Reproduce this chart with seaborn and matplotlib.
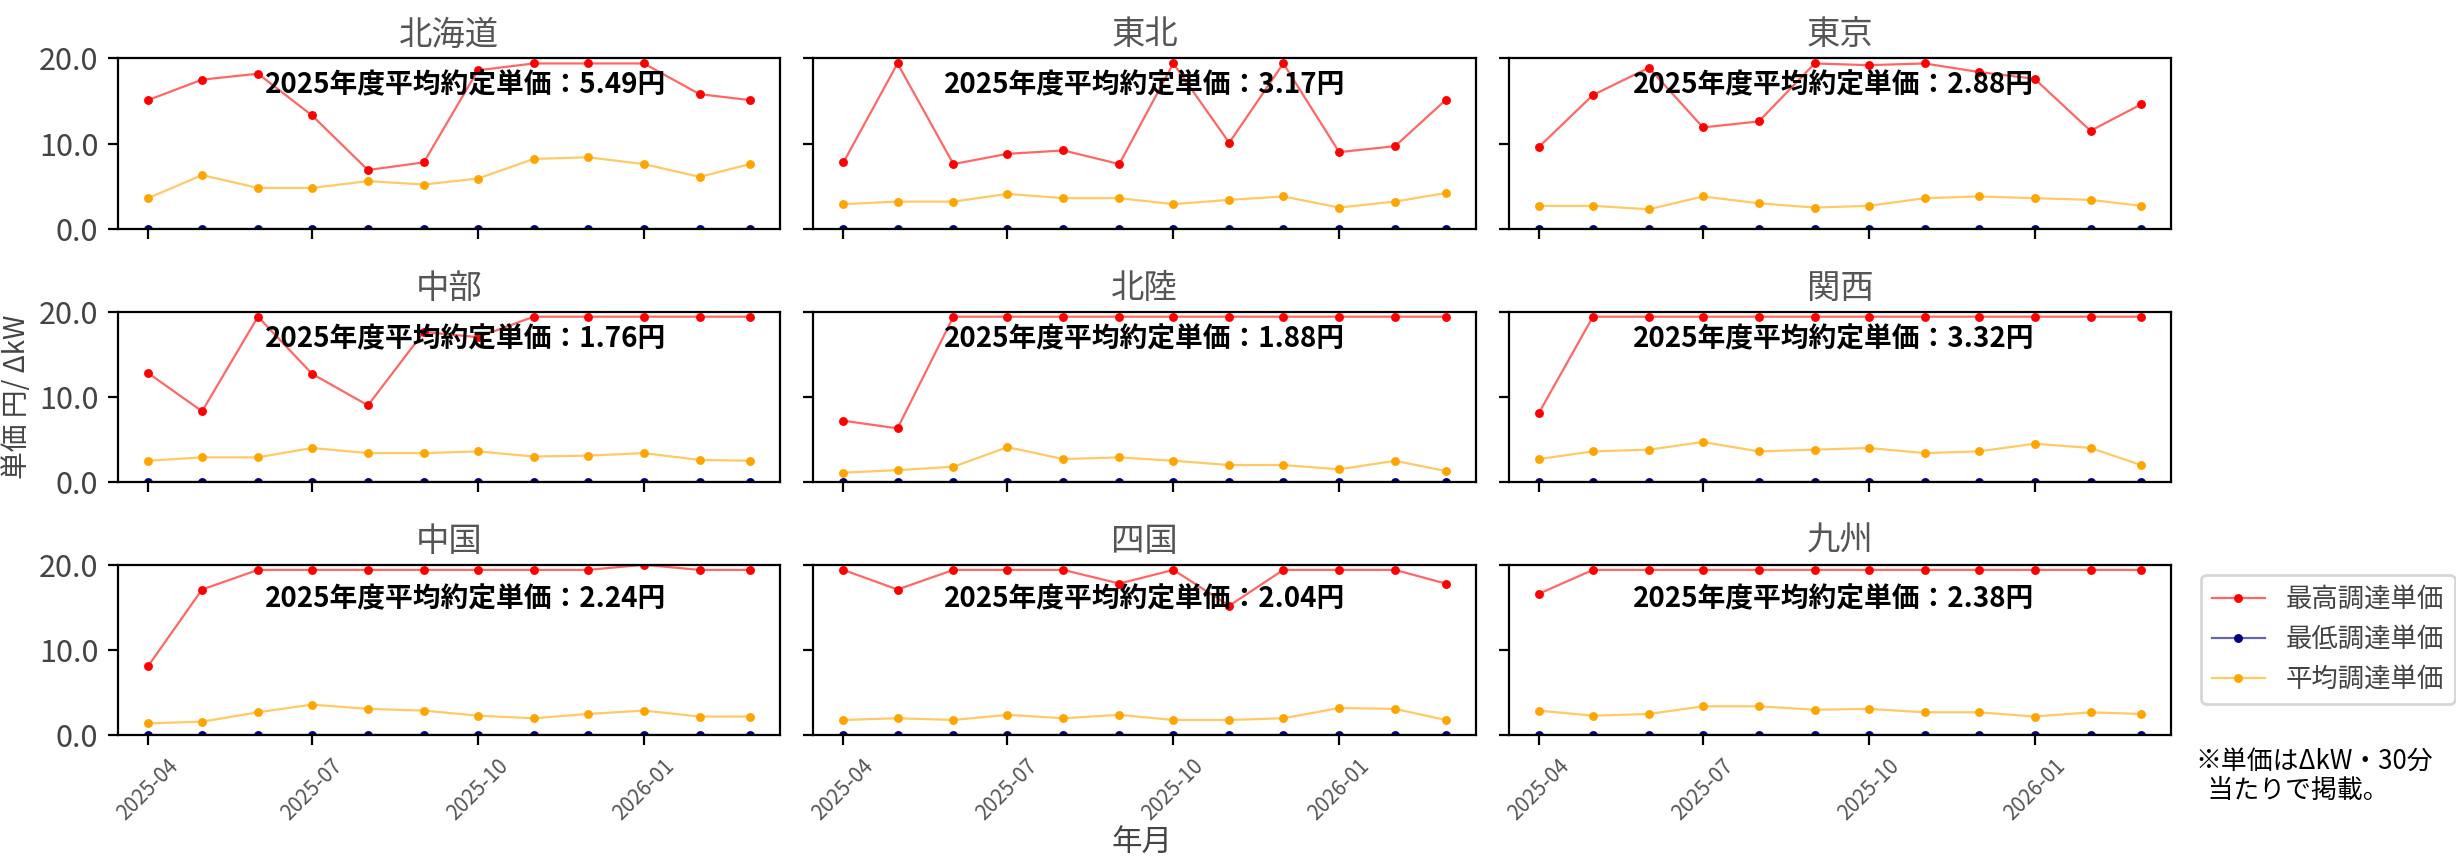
import pandas as pd
import matplotlib
matplotlib.use("Agg")
import matplotlib.pyplot as plt
import matplotlib.dates as mdates
from matplotlib.ticker import FormatStrFormatter
from matplotlib.colors import to_rgba
import seaborn as sns

regions = ["北海道", "東北", "東京", "中部", "北陸", "関西", "中国", "四国", "九州"]
months = pd.date_range("2025-04-01", periods=12, freq="MS")
series_names = ["最高調達単価", "最低調達単価", "平均調達単価"]
annual_avg = [5.49, 3.17, 2.88, 1.76, 1.88, 3.32, 2.24, 2.04, 2.38]

max_prices = [
    [15.1, 17.5, 18.2, 13.3, 6.9, 7.8, 18.6, 19.4, 19.4, 19.4, 15.8, 15.1],   # 北海道
    [7.8, 19.4, 7.6, 8.8, 9.2, 7.6, 19.4, 10.1, 19.4, 9.0, 9.7, 15.1],        # 東北
    [9.6, 15.7, 18.9, 11.9, 12.6, 19.4, 19.2, 19.4, 18.4, 17.6, 11.5, 14.6],  # 東京
    [12.8, 8.3, 19.4, 12.7, 9.0, 17.6, 17.0, 19.4, 19.4, 19.4, 19.4, 19.4],   # 中部
    [7.2, 6.3, 19.4, 19.4, 19.4, 19.4, 19.4, 19.4, 19.4, 19.4, 19.4, 19.4],   # 北陸
    [8.1, 19.4, 19.4, 19.4, 19.4, 19.4, 19.4, 19.4, 19.4, 19.4, 19.4, 19.4],  # 関西
    [8.1, 17.1, 19.4, 19.4, 19.4, 19.4, 19.4, 19.4, 19.4, 20.0, 19.4, 19.4],  # 中国
    [19.4, 17.1, 19.4, 19.4, 19.4, 17.8, 19.4, 15.2, 19.4, 19.4, 19.4, 17.8], # 四国
    [16.6, 19.4, 19.4, 19.4, 19.4, 19.4, 19.4, 19.4, 19.4, 19.4, 19.4, 19.4], # 九州
]
min_prices = [[0.0] * 12 for _ in regions]
avg_prices = [
    [3.6, 6.3, 4.8, 4.8, 5.6, 5.2, 5.9, 8.2, 8.4, 7.6, 6.1, 7.6],
    [2.9, 3.2, 3.2, 4.1, 3.6, 3.6, 2.9, 3.4, 3.8, 2.5, 3.2, 4.2],
    [2.7, 2.7, 2.3, 3.8, 3.0, 2.5, 2.7, 3.6, 3.8, 3.6, 3.4, 2.7],
    [2.5, 2.9, 2.9, 4.0, 3.4, 3.4, 3.6, 3.0, 3.1, 3.4, 2.6, 2.5],
    [1.1, 1.4, 1.8, 4.1, 2.7, 2.9, 2.5, 2.0, 2.0, 1.5, 2.5, 1.3],
    [2.7, 3.6, 3.8, 4.7, 3.6, 3.8, 4.0, 3.4, 3.6, 4.5, 4.0, 2.0],
    [1.4, 1.6, 2.7, 3.6, 3.1, 2.9, 2.3, 2.0, 2.5, 2.9, 2.2, 2.2],
    [1.8, 2.0, 1.8, 2.4, 2.0, 2.4, 1.8, 1.8, 2.0, 3.2, 3.1, 1.8],
    [2.9, 2.3, 2.5, 3.4, 3.4, 3.0, 3.1, 2.7, 2.7, 2.2, 2.7, 2.5],
]
colors = ["red", "navy", "orange"]

plt.rcParams["font.family"] = ["Noto Sans CJK JP", "DejaVu Sans"]

rows = []
for r, region in enumerate(regions):
    for name, vals in zip(series_names, [max_prices[r], min_prices[r], avg_prices[r]]):
        for m, v in zip(months, vals):
            rows.append({"地域": region, "系列": name, "年月": m, "単価": v})
df = pd.DataFrame(rows)

fig, axes = plt.subplots(3, 3, figsize=(12.28, 4.29), dpi=200, sharex=True, sharey=True)
fig.subplots_adjust(left=0.048, right=0.884, top=0.932, bottom=0.143, wspace=0.05, hspace=0.485)

text_x = [0.525, 0.5, 0.49]
text_y = [0.84, 0.84, 0.80]
for i, (ax, region) in enumerate(zip(axes.flat, regions)):
    sub = df[df["地域"] == region]
    sns.lineplot(data=sub, x="年月", y="単価", hue="系列", hue_order=series_names,
                 palette=colors, marker="o", markersize=3.2, markeredgewidth=0,
                 linewidth=0.8, errorbar=None, legend=False, ax=ax)
    for line in ax.lines:
        c = line.get_color()
        line.set_color(to_rgba(c, 0.6))
        line.set_markerfacecolor(c)
        line.set_markeredgecolor(c)
    ax.set_title(region, fontsize=12, color="#555555", pad=5)
    ax.text(text_x[i % 3], text_y[i // 3], f"2025年度平均約定単価：{annual_avg[i]:.2f}円",
            transform=ax.transAxes, ha="center", va="center",
            fontsize=10, fontweight="bold", color="black")
    ax.set_ylim(0, 20)
    ax.set_yticks([0, 10, 20])
    ax.yaxis.set_major_formatter(FormatStrFormatter("%.1f"))
    ax.xaxis.set_major_locator(mdates.MonthLocator(bymonth=[1, 4, 7, 10]))
    ax.xaxis.set_major_formatter(mdates.DateFormatter("%Y-%m"))
    ax.tick_params(axis="y", labelsize=11, labelcolor="#444444")
    ax.tick_params(axis="x", labelsize=7.5, labelcolor="#555555", labelrotation=45)
    ax.set_xlabel("")
    ax.set_ylabel("")
    for s in ax.spines.values():
        s.set_color("black")

handles = axes.flat[-1].lines[:3]
leg = fig.legend(handles, series_names, loc="upper left", bbox_to_anchor=(0.891, 0.345),
                 fontsize=9.5, handlelength=2.0)
for t in leg.get_texts():
    t.set_color("#444444")

fig.text(0.007, 0.537, "単価 円/ ΔkW", rotation=90, ha="center", va="center",
         fontsize=10, color="#444444")
fig.text(0.465, 0.018, "年月", ha="center", va="center", fontsize=11, color="#444444")
fig.text(0.894, 0.128, "※単価はΔkW・30分\n  当たりで掲載。", ha="left", va="top",
         fontsize=9.3, color="black", linespacing=1.1)

fig.savefig("out.png", dpi=200)
